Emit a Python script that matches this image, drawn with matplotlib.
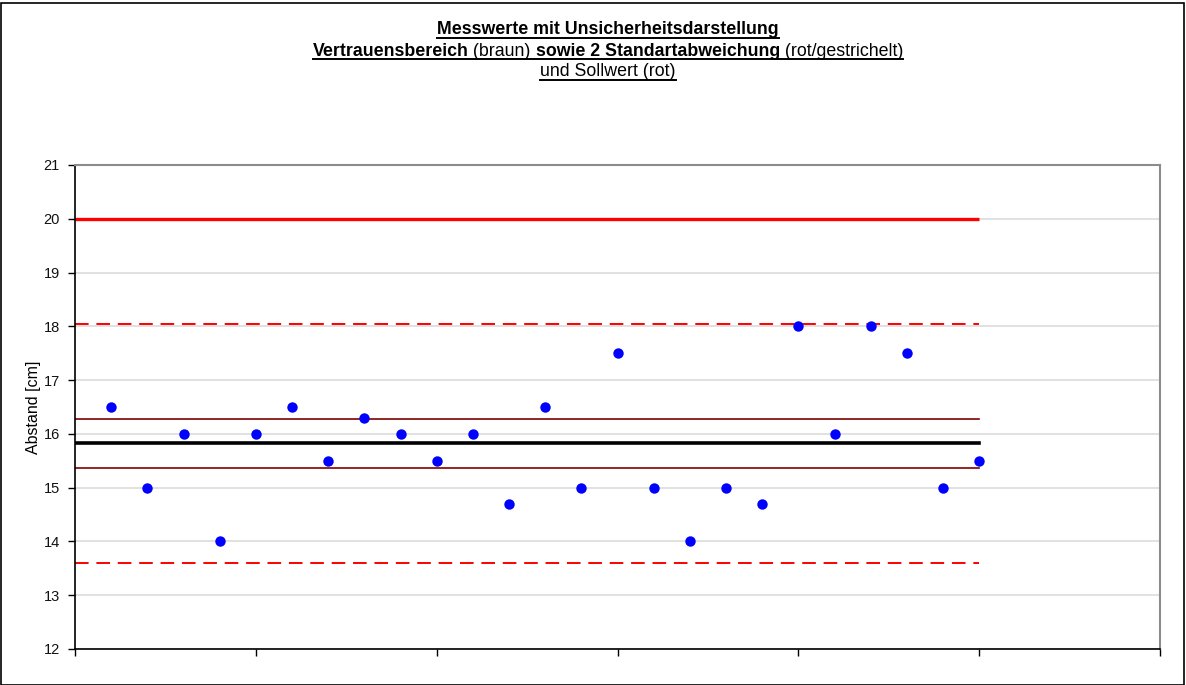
import matplotlib
matplotlib.use("Agg")
import matplotlib.pyplot as plt
from matplotlib.lines import Line2D
from matplotlib.patches import Rectangle

plt.rcParams['font.family'] = ['Liberation Sans', 'DejaVu Sans']

# Data
x_values = list(range(1, 26))
messwerte = [16.5, 15.0, 16.0, 14.0, 16.0, 16.5, 15.5, 16.3, 16.0, 15.5,
             16.0, 14.7, 16.5, 15.0, 17.5, 15.0, 14.0, 15.0, 14.7, 18.0,
             16.0, 18.0, 17.5, 15.0, 15.5]
line_x = [0, 25]
sollwert = 20.0
mittelwert = 15.83
vertrauen_oben = 16.28
vertrauen_unten = 15.37
sd2_oben = 18.05
sd2_unten = 13.6
y_ticks = list(range(12, 22))
x_ticks = [0, 5, 10, 15, 20, 25, 30]

W, H = 1186, 685
fig = plt.figure(figsize=(W / 100, H / 100), dpi=100)
ax = fig.add_axes([75 / W, 1 - 649 / H, (1160 - 75) / W, (649 - 165) / H])

ax.set_xlim(0, 30)
ax.set_ylim(12, 21)
ax.set_yticks(y_ticks)
ax.set_xticks(x_ticks)
ax.set_xticklabels([])
ax.yaxis.grid(True, color='#dcdcdc', linewidth=1.2)
ax.set_axisbelow(True)

ax.plot(line_x, [sollwert] * 2, color='#ff0000', linewidth=2.4, solid_capstyle='butt')
ax.plot(line_x, [sd2_oben] * 2, color='#ff0000', linewidth=1.4, dashes=(7, 4))
ax.plot(line_x, [sd2_unten] * 2, color='#ff0000', linewidth=1.4, dashes=(7, 4))
ax.plot(line_x, [vertrauen_oben] * 2, color='#800000', linewidth=1.2)
ax.plot(line_x, [vertrauen_unten] * 2, color='#800000', linewidth=1.2)
ax.plot(line_x, [mittelwert] * 2, color='#000000', linewidth=2.6)
ax.plot(x_values, messwerte, linestyle='none', marker='o', markersize=7.5,
        color='#0000ff', markeredgewidth=0)

for side in ('left', 'bottom'):
    ax.spines[side].set_color('black')
    ax.spines[side].set_linewidth(1.2)
for side in ('top', 'right'):
    ax.spines[side].set_color('#8c8c8c')
    ax.spines[side].set_linewidth(1.5)
ax.tick_params(axis='both', direction='out', length=5, width=1, color='black',
               labelsize=10.5, labelcolor='#111111', pad=6)
ax.set_ylabel('Abstand [cm]', fontsize=11.5, labelpad=2)

# Title with mixed bold / normal segments, underlined
title_lines = [
    [("Messwerte mit Unsicherheitsdarstellung", 'bold')],
    [("Vertrauensbereich", 'bold'), (" (braun) ", 'normal'),
     ("sowie 2 Standartabweichung", 'bold'), (" (rot/gestrichelt)", 'normal')],
    [("und Sollwert (rot)", 'normal')],
]
baselines_px = [34.5, 55.5, 76.5]
center_px = 608
renderer = fig.canvas.get_renderer()
for segs, base in zip(title_lines, baselines_px):
    texts = []
    widths = []
    for s, wgt in segs:
        t = fig.text(0, 1 - base / H, s, fontsize=12.8, fontweight=wgt,
                     va='baseline', ha='left', color='black')
        bb = t.get_window_extent(renderer)
        texts.append(t)
        widths.append(bb.width)
    total = sum(widths)
    x0 = center_px - total / 2
    cur = x0
    for t, w in zip(texts, widths):
        t.set_x(cur / W)
        cur += w
    yl = 1 - (base + 3) / H
    fig.add_artist(Line2D([x0 / W, (x0 + total) / W], [yl, yl],
                          transform=fig.transFigure, color='black', linewidth=1.4))

# Figure border
fig.add_artist(Rectangle((0.5 / W, 0.5 / H), (W - 3) / W, (H - 3) / H,
                         transform=fig.transFigure, fill=False,
                         edgecolor='black', linewidth=1.2))

fig.savefig('out.png', dpi=100)
